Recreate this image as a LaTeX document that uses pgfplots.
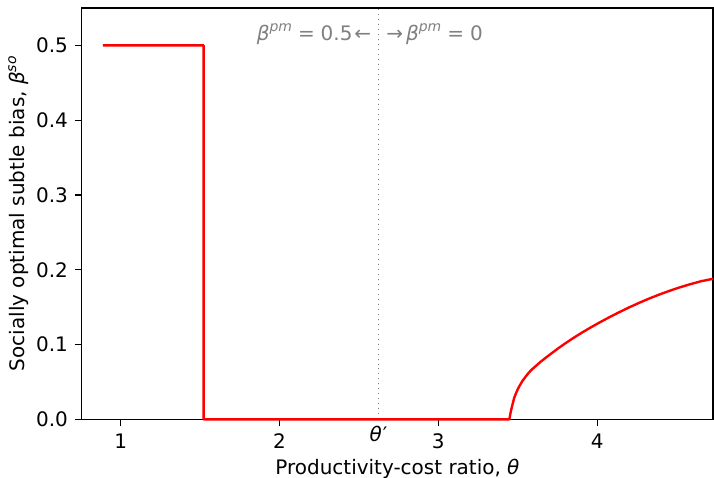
\documentclass[border=0pt]{standalone}
\usepackage{fontspec}
\setmainfont{DejaVu Sans}
\usepackage{pgfplots}
\pgfplotsset{compat=1.18}
\newcommand{\supit}[1]{\raisebox{0.75ex}{\fontsize{7}{8}\selectfont\textit{#1}}}
\begin{document}
\begin{tikzpicture}
\useasboundingbox (-41pt,-29pt) rectangle (316.5pt,210pt);
\begin{axis}[
  at={(0,0)}, anchor=south west,
  scale only axis, width=316pt, height=206pt,
  xmin=0.755, xmax=4.73, ymin=0, ymax=0.55,
  axis line style={line width=0.6pt},
  tick style={black, line width=0.6pt},
  tick align=outside, major tick length=3.5pt,
  xtick={1,2,3,4}, ytick={0,0.1,0.2,0.3,0.4,0.5},
  xtick pos=bottom, ytick pos=left,
  yticklabel style={/pgf/number format/.cd, fixed, fixed zerofill, precision=1},
  /pgf/number format/assume math mode=true,
  tick label style={font=\fontsize{10}{12}\selectfont},
  label style={font=\fontsize{10}{12}\selectfont},
  extra x ticks={2.623}, extra x tick labels={\textit{θ}\hspace{0.05em}′},
  extra x tick style={major tick length=0pt},
  xlabel={Productivity-cost ratio, \textit{θ}},
  ylabel={Socially optimal subtle bias, \textit{β}\supit{so}},
  xlabel style={yshift=5pt},
  ylabel style={yshift=-3pt},
  clip=false,
]
\addplot[gray, dotted, line width=0.5pt] coordinates {(2.623,0) (2.623,0.55)};
\addplot[red, line width=1.2pt, line join=round] coordinates {
(0.887,0.5) (1.522,0.5) (1.522,0) (3.447,0) (3.455,0.009) (3.463,0.0165) (3.478,0.029) (3.493,0.037) (3.509,0.044) (3.53,0.0515) (3.551,0.0575) (3.572,0.063) (3.593,0.0675) (3.645,0.0772) (3.698,0.0860) (3.75,0.0943) (3.803,0.1022) (3.855,0.1095) (3.908,0.1165) (3.96,0.1230) (4.013,0.1293) (4.075,0.1364) (4.138,0.1432) (4.201,0.1497) (4.264,0.1558) (4.327,0.1615) (4.39,0.1668) (4.453,0.1717) (4.516,0.1762) (4.579,0.1803) (4.65,0.1845) (4.73,0.1880)};
\node[anchor=east, text=gray, font=\fontsize{10}{12}\selectfont, inner sep=0pt] at (axis cs:2.58,0.515) {\textit{β}\supit{pm}\hspace{0.3em}=\hspace{0.3em}0.5\hspace{0.1em}←};
\node[anchor=west, text=gray, font=\fontsize{10}{12}\selectfont, inner sep=0pt] at (axis cs:2.67,0.515) {→\hspace{0.15em}\textit{β}\supit{pm}\hspace{0.3em}=\hspace{0.3em}0};
\end{axis}
\end{tikzpicture}
\end{document}
